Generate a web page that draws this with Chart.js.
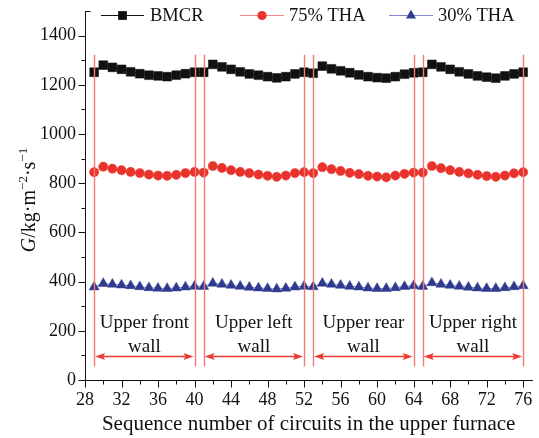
<!DOCTYPE html>
<html>
<head>
<meta charset="utf-8">
<script src="https://cdn.jsdelivr.net/npm/chart.js@4.4.1/dist/chart.umd.min.js"></script>
<style>
html,body{margin:0;padding:0;background:#fff;}
#wrap{width:539px;height:438px;position:relative;}
</style>
</head>
<body>
<div id="wrap"><canvas id="c" width="539" height="438"></canvas></div>
<script>
// ---- data ----
const circuits = [29,30,31,32,33,34,35,36,37,38,39,40,
                  41,42,43,44,45,46,47,48,49,50,51,52,
                  53,54,55,56,57,58,59,60,61,62,63,64,
                  65,66,67,68,69,70,71,72,73,74,75,76];
const bmcr = [1251,1280,1271,1263,1253,1245,1239,1236,1233,1239,1245,1251,
              1251,1283,1273,1263,1253,1244,1239,1233,1228,1233,1244,1251,
              1247,1276,1265,1257,1249,1240,1233,1229,1227,1233,1243,1249,
              1251,1283,1273,1263,1253,1244,1236,1231,1227,1236,1244,1251];
const tha75 = [845,867,859,853,846,841,835,831,830,834,841,846,
               843,870,862,853,846,841,835,830,826,831,841,845,
               841,865,857,850,842,837,830,827,824,831,838,843,
               843,870,861,853,846,840,834,829,826,831,840,845];
const tha30 = [378,392,389,386,383,379,375,373,372,374,378,381,
               380,393,389,385,381,377,374,372,370,373,378,381,
               379,393,389,385,381,378,374,372,372,375,380,383,
               380,395,389,385,381,377,374,372,372,375,379,383];
const seriesNames = ["BMCR","75% THA","30% THA"];
const wallStart = [29,41,53,65];
const wallEnd   = [40,52,64,76];
const wallLine1 = ["Upper front","Upper left","Upper rear","Upper right"];
const wallLine2 = ["wall","wall","wall","wall"];
const yTickLabels = [0,200,400,600,800,1000,1200,1400];
const xTickLabels = [28,32,36,40,44,48,52,56,60,64,68,72,76];
const xTickMarks  = [28,30,32,34,36,38,40,42,44,46,48,50,52,54,56,58,60,62,64,66,68,70,72,74,76];
const wallLineTop = 1322, wallLineBottom = 55, arrowValue = 98;
const labelValue1 = 232, labelValue2 = 135;

const FONT = "'Liberation Serif','Times New Roman',serif";
const pts = arr => circuits.map((x,i)=>({x:x,y:arr[i]}));

const styles = [
  {line:'#111111', fill:'#111111', style:'rect', r:6.2},
  {line:'#f48a84', fill:'#e8322b', style:'circle', r:4.6},
  {line:'#7f86cc', fill:'#2e3a8e', style:'triangle', r:5.8}
];

function drawMarker(ctx, s, x, y){
  ctx.save();
  ctx.fillStyle = s.fill;
  ctx.beginPath();
  if(s.style==='rect'){
    const h = s.r*Math.SQRT1_2;
    ctx.rect(x-h,y-h,2*h,2*h);
  } else if(s.style==='circle'){
    ctx.arc(x,y,s.r,0,Math.PI*2);
  } else {
    ctx.moveTo(x, y - s.r);
    ctx.lineTo(x + s.r*Math.sin(Math.PI/3), y + s.r*0.5);
    ctx.lineTo(x - s.r*Math.sin(Math.PI/3), y + s.r*0.5);
    ctx.closePath();
  }
  ctx.fill();
  ctx.restore();
}

const decor = {
  id:'decor',
  afterDatasetsDraw(chart){
    const ctx = chart.ctx, xs = chart.scales.x, ys = chart.scales.y;
    ctx.save();
    // wall boundary lines
    ctx.strokeStyle = '#f47a74';
    ctx.lineWidth = 1.4;
    const allX = [];
    wallStart.forEach((s,i)=>{allX.push(s, wallEnd[i]);});
    allX.forEach(v=>{
      const px = Math.round(xs.getPixelForValue(v))+0.5;
      ctx.beginPath();
      ctx.moveTo(px, ys.getPixelForValue(wallLineTop));
      ctx.lineTo(px, ys.getPixelForValue(wallLineBottom));
      ctx.stroke();
    });
    // arrows
    ctx.strokeStyle = '#ec3b33';
    ctx.fillStyle = '#ec3b33';
    ctx.lineWidth = 1.3;
    const ay = Math.round(ys.getPixelForValue(arrowValue))+0.5;
    wallStart.forEach((s,i)=>{
      const x1 = xs.getPixelForValue(s)+1, x2 = xs.getPixelForValue(wallEnd[i])-1;
      ctx.beginPath(); ctx.moveTo(x1+4, ay); ctx.lineTo(x2-4, ay); ctx.stroke();
      ctx.beginPath(); ctx.moveTo(x1, ay); ctx.lineTo(x1+10, ay-3.5); ctx.lineTo(x1+8, ay); ctx.lineTo(x1+10, ay+3.5); ctx.closePath(); ctx.fill();
      ctx.beginPath(); ctx.moveTo(x2, ay); ctx.lineTo(x2-10, ay-3.5); ctx.lineTo(x2-8, ay); ctx.lineTo(x2-10, ay+3.5); ctx.closePath(); ctx.fill();
    });
    // wall labels
    ctx.fillStyle = '#111';
    ctx.font = '19px ' + FONT;
    ctx.textAlign = 'center';
    ctx.textBaseline = 'middle';
    wallStart.forEach((s,i)=>{
      const cx = xs.getPixelForValue((s + wallEnd[i])/2);
      ctx.fillText(wallLine1[i], cx, ys.getPixelForValue(labelValue1));
      ctx.fillText(wallLine2[i], cx, ys.getPixelForValue(labelValue2));
    });
    ctx.restore();
  },
  afterDraw(chart){
    const ctx = chart.ctx, xs = chart.scales.x, ys = chart.scales.y;
    ctx.save();
    ctx.strokeStyle = '#111';
    ctx.lineWidth = 1;
    // y ticks
    const ax = Math.round(xs.left) + 0.5;
    ys.ticks.forEach(t=>{
      const py = Math.round(ys.getPixelForValue(t.value)) + 0.5;
      const major = yTickLabels.includes(t.value);
      ctx.beginPath();
      if(t.value === ys.max){ ctx.moveTo(ax, py); ctx.lineTo(ax+5, py); }
      else { ctx.moveTo(ax, py); ctx.lineTo(ax - (major?7:4), py); }
      ctx.stroke();
    });
    // x ticks
    const by = Math.round(ys.bottom) + 0.5;
    xTickMarks.forEach(v=>{
      const px = Math.round(xs.getPixelForValue(v)) + 0.5;
      const major = xTickLabels.includes(v);
      ctx.beginPath(); ctx.moveTo(px, by); ctx.lineTo(px, by + (major?7:4)); ctx.stroke();
    });
    // legend
    const ly = 15;
    const legendItems = [
      {x1:101, x2:144, tx:150},
      {x1:240, x2:284, tx:289},
      {x1:389, x2:433, tx:438}
    ];
    ctx.font = '18.5px ' + FONT;
    ctx.textBaseline = 'middle';
    ctx.textAlign = 'left';
    legendItems.forEach((it,i)=>{
      const s = styles[i];
      ctx.strokeStyle = s.line; ctx.lineWidth = 1.2;
      ctx.beginPath(); ctx.moveTo(it.x1, ly+0.5); ctx.lineTo(it.x2, ly+0.5); ctx.stroke();
      drawMarker(ctx, s, (it.x1+it.x2)/2, ly+0.5);
      ctx.fillStyle = '#111';
      ctx.fillText(seriesNames[i], it.tx, ly+1);
    });
    // y axis title: G/kg·m^-2·s^-1
    ctx.translate(29, 200);
    ctx.rotate(-Math.PI/2);
    ctx.fillStyle = '#111';
    ctx.textBaseline = 'alphabetic';
    const parts = [
      {t:'G', f:'italic 20px ' + FONT, dy:0},
      {t:'/kg\u00b7m', f:'20px ' + FONT, dy:0},
      {t:'\u22122', f:'13px ' + FONT, dy:-8},
      {t:'\u00b7s', f:'20px ' + FONT, dy:0},
      {t:'\u22121', f:'13px ' + FONT, dy:-8}
    ];
    let total = 0;
    parts.forEach(p=>{ctx.font=p.f; p.w = ctx.measureText(p.t).width; total += p.w;});
    let cx = -total/2;
    parts.forEach(p=>{ctx.font=p.f; ctx.fillText(p.t, cx, 6 + p.dy); cx += p.w;});
    ctx.restore();
  }
};

const ds = [bmcr, tha75, tha30].map((arr,i)=>({
  label: seriesNames[i],
  data: pts(arr),
  borderColor: styles[i].line,
  backgroundColor: styles[i].fill,
  pointBackgroundColor: styles[i].fill,
  pointBorderColor: styles[i].fill,
  pointBorderWidth: 0.5,
  pointStyle: styles[i].style,
  pointRadius: styles[i].r,
  borderWidth: 1,
  tension: 0
}));

new Chart(document.getElementById('c'), {
  type: 'line',
  data: { datasets: ds },
  options: {
    responsive: false,
    animation: false,
    devicePixelRatio: 1,
    layout: { padding: { top: 11, right: 1, left: 0, bottom: 0 } },
    plugins: { legend: { display: false }, tooltip: { enabled: false } },
    scales: {
      x: {
        type: 'linear', min: 28, max: 77,
        afterBuildTicks: s => { s.ticks = xTickMarks.map(v => ({ value: v })); },
        ticks: {
          autoSkip: false, maxRotation: 0, padding: 2,
          color: '#111', font: { family: FONT, size: 18 },
          callback: v => xTickLabels.includes(v) ? String(v) : ''
        },
        grid: { display: true, drawOnChartArea: false, drawTicks: true, tickLength: 7, tickColor: 'rgba(0,0,0,0)' },
        border: { display: true, color: '#111', width: 1 },
        title: { display: true, text: 'Sequence number of circuits in the upper furnace',
                 color: '#111', font: { family: FONT, size: 21 }, padding: { top: 0, bottom: 1 } },
        afterFit: s => { s.height = 58; s.paddingLeft = 0; s.paddingRight = 0; }
      },
      y: {
        min: 0, max: 1500,
        ticks: {
          stepSize: 100, autoSkip: false, padding: 2,
          color: '#111', font: { family: FONT, size: 18 },
          callback: v => yTickLabels.includes(v) ? String(v) : ''
        },
        grid: { display: true, drawOnChartArea: false, drawTicks: true, tickLength: 7, tickColor: 'rgba(0,0,0,0)' },
        border: { display: true, color: '#111', width: 1 },
        afterFit: s => { s.width = 85; s.paddingTop = 0; s.paddingBottom = 0; }
      }
    }
  },
  plugins: [decor]
});
</script>
</body>
</html>
